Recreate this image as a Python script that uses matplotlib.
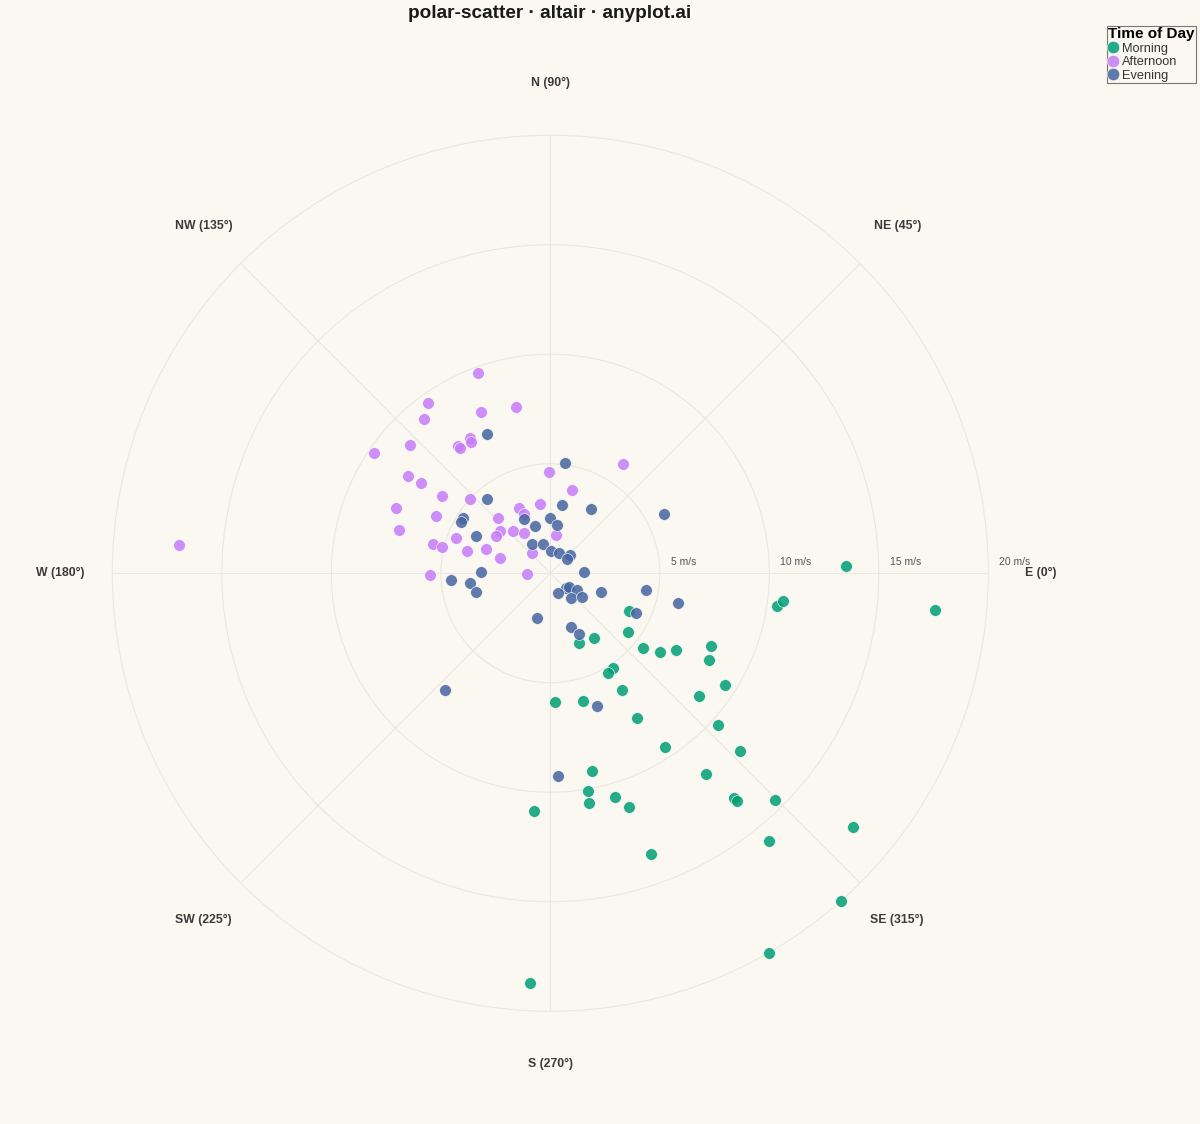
import numpy as np
import matplotlib
matplotlib.use("Agg")
import matplotlib.pyplot as plt
from matplotlib.lines import Line2D

plt.rcParams['font.family'] = ['Liberation Sans', 'DejaVu Sans']

# wind direction (deg, 0 = East, counter-clockwise) and speed (m/s)
morning_dir = [1.4, 354.5, 351.8, 353.2, 334.3, 322.9, 292.5, 303.7, 321.3, 324.4,
               328.7, 335.6, 331.3, 303.6, 300.1, 327.5, 301.6, 320.4, 272.0, 284.5,
               301.1, 317.9, 303.4, 316.8, 281.8, 307.8, 279.8, 279.5, 286.2, 288.6,
               266.1, 309.2, 309.4, 314.7, 289.7, 309.2, 300.0, 267.2, 320.0, 311.6]
morning_speed = [13.49, 17.66, 10.46, 10.70, 3.97, 4.45, 3.43, 3.57, 5.43, 6.16,
                 6.72, 8.04, 8.28, 5.21, 5.25, 9.46, 6.27, 8.80, 5.89, 6.01,
                 7.70, 10.33, 9.49, 11.89, 9.22, 11.62, 10.07, 10.65, 10.62, 11.28,
                 10.88, 13.24, 13.44, 14.59, 13.63, 15.80, 20.0, 18.74, 18.03, 20.0]

afternoon_dir = [109.8, 125.6, 101.7, 129.4, 113.3, 120.5, 121.1, 137.7, 125.9, 125.8,
                 145.8, 90.6, 56.4, 75.2, 145.7, 144.9, 144.4, 137.2, 115.5, 113.9,
                 98.7, 133.7, 153.3, 164.2, 139.7, 145.3, 131.2, 123.1, 81.5, 159.3,
                 165.8, 166.5, 165.0, 159.3, 162.8, 132.1, 181.7, 181.0, 175.6, 156.9]
afternoon_speed = [9.72, 9.57, 7.75, 9.09, 8.02, 7.19, 7.02, 8.68, 7.16, 7.05,
                   9.74, 4.64, 5.98, 3.93, 7.86, 7.20, 6.06, 4.98, 3.32, 2.96,
                   3.19, 3.47, 5.84, 7.18, 3.01, 3.02, 2.57, 2.20, 1.77, 4.59,
                   5.52, 5.09, 3.92, 3.14, 2.41, 1.27, 1.06, 5.48, 17.00, 7.64]

evening_dir = [114.4, 82.3, 130.7, 80.0, 58.0, 27.7, 147.5, 150.2, 116.0, 90.3,
               108.0, 81.8, 153.6, 121.3, 103.6, 89.0, 66.4, 42.9, 39.5, 2.7,
               178.9, 183.9, 186.7, 194.2, 315.8, 323.9, 291.8, 328.0, 310.0, 323.1,
               339.8, 349.9, 346.7, 334.9, 253.3, 291.1, 295.0, 289.5, 272.1, 228.0]
evening_speed = [7.00, 5.10, 4.46, 3.15, 3.48, 5.85, 4.73, 4.68, 2.74, 2.54,
                 2.26, 2.23, 3.80, 1.58, 1.36, 1.02, 1.03, 1.23, 1.01, 1.54,
                 3.16, 4.53, 3.71, 3.48, 0.98, 1.04, 0.98, 1.44, 1.47, 1.83,
                 2.47, 4.44, 5.98, 4.32, 2.12, 2.63, 3.07, 6.44, 9.26, 7.17]

groups = ['Morning', 'Afternoon', 'Evening']
colors = ['#009E73', '#C57CFA', '#45649F']
directions = ['E (0°)', 'NE (45°)', 'N (90°)', 'NW (135°)',
              'W (180°)', 'SW (225°)', 'S (270°)', 'SE (315°)']
rings = [5, 10, 15, 20]

bg = '#FAF8F1'
grid_color = '#EAE7DF'

fig = plt.figure(figsize=(12, 11.24), dpi=100, facecolor=bg)
ax = fig.add_axes([0.0936, 0.1003, 0.73, 0.7794], projection='polar')
ax.set_facecolor(bg)

data = [(morning_dir, morning_speed), (afternoon_dir, afternoon_speed),
        (evening_dir, evening_speed)]
for (d, s), color in zip(data, colors):
    ax.scatter(np.radians(d), s, s=72, color=color, alpha=0.85,
               edgecolors='white', linewidths=0.5, zorder=3, clip_on=False)

ax.set_ylim(0, 20)
ax.set_rgrids(rings[:-1], labels=[''] * 3)
ax.set_thetagrids(np.arange(0, 360, 45), labels=[''] * 8)
ax.grid(True, color=grid_color, linewidth=0.8)
ax.spines['polar'].set_color(grid_color)
ax.spines['polar'].set_linewidth(0.8)
ax.tick_params(length=0)

for i, label in enumerate(directions):
    ax.text(np.radians(i * 45), 22.4, label, ha='center', va='center',
            fontsize=8.8, fontweight='bold', color='#3a3a3a', clip_on=False)

for r in rings:
    ax.annotate(f"{r} m/s", xy=(0, r), xytext=(8, 8), textcoords='offset points',
                ha='left', va='center', fontsize=7.5, color='#555555')

fig.text(550 / 1200, 1 - 13 / 1124, "polar-scatter · altair · anyplot.ai",
         ha='center', va='center', fontsize=13.7, fontweight='bold', color='#1a1a1a')

handles = [Line2D([], [], marker='o', linestyle='', markersize=9, color=c,
                  alpha=0.85, markeredgecolor='white', markeredgewidth=0.5)
           for c in colors]
leg = fig.legend(handles, groups, title='Time of Day', loc='upper right',
                 bbox_to_anchor=(1196 / 1200, 1 - 26 / 1124), frameon=True,
                 fancybox=False, fontsize=9.2, title_fontsize=11,
                 borderpad=0.1, labelspacing=0.12, handletextpad=0.3,
                 handlelength=0.8, borderaxespad=0, alignment='left',
                 labelcolor='#333333')
leg.get_title().set_fontweight('bold')
leg.get_frame().set_edgecolor('#555555')
leg.get_frame().set_linewidth(0.8)
leg.get_frame().set_facecolor(bg)

fig.savefig('out.png', dpi=100, facecolor=bg)
